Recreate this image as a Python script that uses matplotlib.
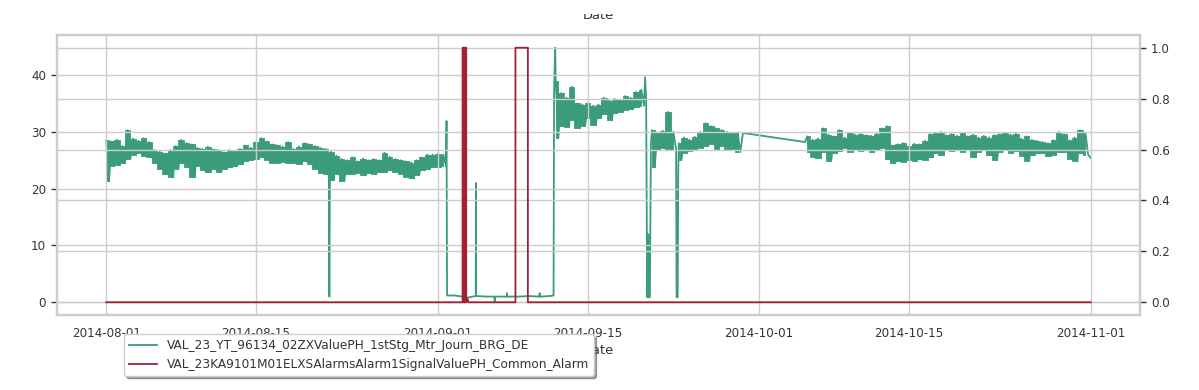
import numpy as np
import pandas as pd
import matplotlib
matplotlib.use('Agg')
import matplotlib.pyplot as plt
import matplotlib.dates as mdates
from matplotlib.transforms import Bbox, TransformedBbox

start = pd.Timestamp('2014-08-01')

green_name = 'VAL_23_YT_96134_02ZXValuePH_1stStg_Mtr_Journ_BRG_DE'
red_name = 'VAL_23KA9101M01ELXSAlarmsAlarm1SignalValuePH_Common_Alarm'

# bearing signal while running, read every half day as (high, low)
# each stretch starts at the given day after 2014-08-01
aug_d0 = 0.0
aug_hi = [28.5, 28.3, 28.6, 27.5, 30.3, 28.8, 28.4, 28.9, 28.2, 26.8,
          26.5, 26.2, 26.8, 27.5, 28.6, 28.0, 27.8, 27.2, 27.0, 27.4,
          26.9, 26.8, 26.4, 26.8, 26.6, 27.0, 27.6, 27.2, 28.2, 28.9,
          28.3, 27.8, 27.6, 27.4, 28.2, 27.0, 27.4, 28.0, 27.8, 27.5,
          27.2, 27.0, 26.5, 25.8, 25.2, 25.0, 25.5, 24.8, 25.3, 25.0,
          25.2, 25.0, 26.3, 25.6, 25.2, 25.0, 24.8, 24.6, 25.0, 25.5,
          26.0, 26.0, 26.1, 26.0]
aug_lo = [21.3, 24.0, 24.2, 24.6, 25.2, 26.0, 26.3, 25.8, 25.5, 24.5,
          23.5, 22.6, 22.0, 23.5, 24.5, 23.8, 22.0, 24.0, 23.2, 23.0,
          23.4, 22.9, 23.5, 23.8, 24.0, 24.3, 24.8, 25.0, 25.2, 25.5,
          25.0, 24.6, 24.5, 24.7, 24.5, 24.6, 24.4, 24.8, 24.4, 23.5,
          22.8, 22.5, 21.5, 22.5, 21.3, 22.6, 22.5, 22.8, 22.4, 22.8,
          22.6, 22.9, 23.0, 23.2, 23.0, 22.6, 22.0, 21.8, 22.4, 23.2,
          23.5, 23.8, 23.8, 24.0]

sep_d0 = 42.0
sep_hi = [39.0, 36.8, 36.0, 37.9, 35.0, 34.8, 35.0, 34.6, 34.8, 36.0,
          35.5, 35.8, 35.6, 36.3, 36.0, 37.0, 37.4]
sep_lo = [28.9, 31.0, 30.8, 32.0, 30.7, 31.0, 32.4, 31.2, 32.5, 33.2,
          32.0, 33.3, 33.5, 33.8, 34.0, 34.3, 34.6]

sep2_d0 = 51.0
sep2_hi = [30.3, 29.8, 30.2, 33.5, 30.0]
sep2_lo = [23.8, 27.0, 27.1, 26.9, 27.0]

sep3_d0 = 53.5
sep3_hi = [28.0, 29.0, 28.6, 29.1, 30.0, 31.5, 31.0, 30.6, 30.3, 30.0, 29.8, 29.9]
sep3_lo = [25.0, 26.3, 26.7, 27.0, 27.2, 27.5, 27.8, 27.0, 27.5, 26.8, 27.0, 26.4]

oct_d0 = 65.5
oct_hi = [29.2, 28.6, 28.8, 30.6, 29.5, 29.2, 30.3, 29.0, 29.8, 29.5,
          29.6, 29.4, 29.3, 29.7, 30.6, 31.0, 27.6, 27.8, 28.0, 27.5,
          27.9, 27.8, 28.4, 29.6, 29.8, 30.0, 29.4, 29.6, 29.3, 29.8,
          29.2, 29.5, 29.0, 29.3, 29.0, 29.4, 29.6, 29.8, 29.5, 29.7,
          28.8, 29.2, 28.6, 28.4, 28.2, 28.0, 28.5, 30.0, 29.6, 28.5,
          29.0, 30.3, 29.8]
oct_lo = [26.4, 25.5, 25.4, 26.4, 24.9, 26.2, 26.7, 27.1, 26.5, 27.0,
          26.6, 27.0, 26.4, 26.8, 27.2, 25.3, 24.6, 24.8, 24.7, 25.0,
          24.9, 25.2, 25.0, 25.6, 26.3, 26.0, 26.8, 26.6, 26.8, 26.5,
          26.9, 25.5, 26.5, 26.8, 26.0, 25.0, 26.4, 26.8, 26.3, 26.6,
          25.8, 24.9, 26.0, 26.2, 26.3, 25.8, 26.0, 26.4, 26.5, 25.2,
          24.8, 26.2, 26.0]

# single readings: trips, spikes, the idle stretch and the data gap
pts_day = [20.8, 20.85, 20.9, 31.8, 31.85, 32.5, 33.3, 33.7, 34.5, 34.53,
           34.55, 34.57, 35.5, 36.28, 36.3, 36.32, 37.43, 37.45, 37.47, 38.5,
           39.5, 40.48, 40.5, 40.52, 41.5, 41.8, 41.85, 41.95, 50.35, 50.45,
           50.55, 50.65, 50.7, 50.8, 50.9, 53.3, 53.4, 53.45, 59.5, 65.3,
           92.0]
pts_val = [22.5, 1.0, 22.0, 31.9, 1.2, 1.2, 1.0, 0.8, 1.1, 1.1,
           21.0, 1.1, 1.0, 1.0, 0.0, 1.0, 1.0, 1.6, 1.0, 1.0,
           1.1, 1.0, 1.6, 1.0, 1.1, 1.2, 37.4, 44.8, 39.6, 36.0,
           0.9, 12.0, 0.9, 0.9, 28.0, 0.9, 0.9, 22.9, 29.8, 28.2,
           25.4]

# common alarm (0/1)
red_day = [0.0, 33.3, 33.3, 33.38, 33.38, 33.44, 33.44, 33.52, 33.52, 33.58,
           33.58, 33.64, 33.64, 33.75, 33.85, 38.24, 38.24, 39.4, 39.4, 92.0]
red_val = [0, 0, 1, 1, 0, 0, 1, 1, 0, 0,
           1, 1, 0, 0.015, 0, 0, 1, 1, 0, 0]

stretches = [(aug_d0, aug_hi, aug_lo), (sep_d0, sep_hi, sep_lo),
             (sep2_d0, sep2_hi, sep2_lo), (sep3_d0, sep3_hi, sep3_lo),
             (oct_d0, oct_hi, oct_lo)]


def to_time(days):
    return start + pd.to_timedelta(np.asarray(days, dtype=float), unit='D')


g_day, g_val = list(pts_day), list(pts_val)
for d0, hi, lo in stretches:
    for i, (h, l) in enumerate(zip(hi, lo)):
        g_day += [d0 + 0.5 * i, d0 + 0.5 * i + 0.25]
        g_val += [h, l]
order = np.argsort(g_day, kind='stable')
g_time = to_time(np.array(g_day)[order])
g_val = np.array(g_val)[order]

green = '#3a9c7b'
red = '#a31f34'
grid_c = '#cccccc'
text_c = '#333333'

fig = plt.figure(figsize=(11.99, 3.9), dpi=100)
ax = fig.add_axes([57 / 1199, 1 - 315 / 390, (1140 - 57) / 1199, (315 - 35) / 390])
ax2 = ax.twinx()

# dense running data: blocks between the half-day highs and lows, line on top
for d0, hi, lo in stretches:
    t = to_time([d0 + 0.5 * i for i in range(len(hi))])
    ax.fill_between(t, lo, hi, step='mid', color=green, lw=0.6, edgecolor=green)
ax.plot(g_time, g_val, color=green, lw=1.3, label=green_name)
ax2.plot(to_time(red_day), red_val, color=red, lw=1.3, label=red_name)

ax.set_axisbelow(False)
ax2.set_axisbelow(True)
ax.grid(True, color=grid_c, lw=1.0)
ax2.grid(True, axis='y', color=grid_c, lw=1.0)

for a in (ax, ax2):
    for s in a.spines.values():
        s.set_color(grid_c)
        s.set_linewidth(1.6)
    a.tick_params(axis='y', length=4.3, width=1, pad=3.6, labelsize=8.6, colors=text_c)
ax.tick_params(axis='x', length=0, pad=8.6, labelsize=8.6, colors=text_c)

ax.xaxis.set_major_locator(mdates.DayLocator(bymonthday=[1, 15]))
ax.xaxis.set_major_formatter(mdates.DateFormatter('%Y-%m-%d'))
ax.set_xlabel('Date', fontsize=9.4, color=text_c, labelpad=3)

top = fig.text(598 / 1199, 1 - 19 / 390, 'Date', ha='center', va='baseline',
               fontsize=9.4, color=text_c)
top.set_clip_box(TransformedBbox(Bbox([[0, 0], [1, 1 - 13.5 / 390]]), fig.transFigure))
top.set_clip_on(True)

leg = ax2.legend(ax.get_lines() + ax2.get_lines(), [green_name, red_name],
                 loc='upper left', bbox_to_anchor=(124 / 1199, 1 - 334 / 390),
                 bbox_transform=fig.transFigure, borderaxespad=0, fontsize=8.75,
                 shadow=True, frameon=True, edgecolor=grid_c, facecolor='white',
                 framealpha=1, handlelength=2.3)
for t in leg.get_texts():
    t.set_color(text_c)

fig.savefig('out.png', dpi=100)
